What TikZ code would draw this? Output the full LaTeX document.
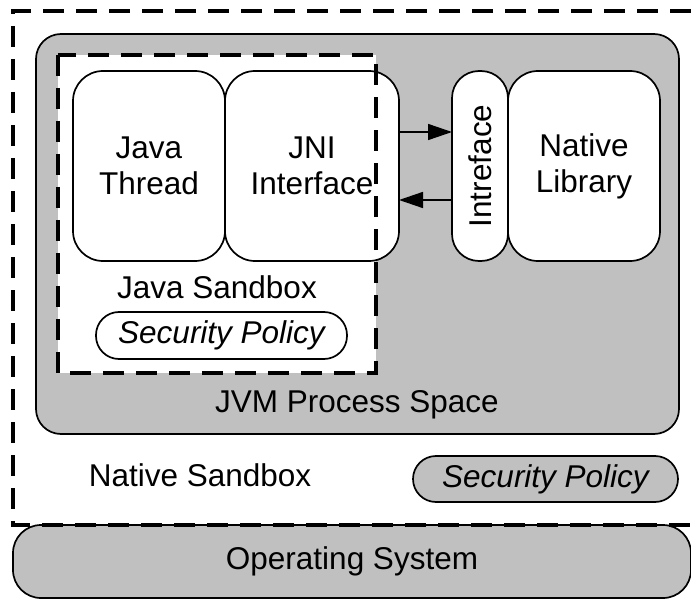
\documentclass[tikz,border=0pt]{standalone}
\usepackage{fontspec}
\setmainfont{Liberation Sans}
\usetikzlibrary{arrows.meta}
\definecolor{boxgray}{HTML}{C0C0C0}
\begin{document}
\begin{tikzpicture}[x=1pt,y=-1pt,
  every node/.style={font=\fontsize{31.5}{36}\selectfont, inner sep=0pt, outer sep=0pt},
  rbox/.style={draw, line width=1.7pt, fill=white, rounded corners=30pt, minimum height=190pt},
  pill/.style={draw, line width=1.7pt, rounded corners=23pt, font=\fontsize{31.5}{36}\selectfont\itshape},
  dashline/.style={line width=3.2pt, dash pattern=on 21pt off 12pt},
  arr/.style={line width=1.5pt, -{Triangle[length=24pt,width=16pt]}}]
\useasboundingbox (0,0) rectangle (691,599);
\fill[white] (0,0) rectangle (691,599);
% Operating system
\node[draw, line width=1.7pt, fill=boxgray, rounded corners=28pt, minimum width=678pt, minimum height=73pt] (os) at (352,561.5) {Operating System};
% Native sandbox dashed border
\coordinate (nsTR) at (691,11);
\coordinate (nsTL) at (13,11);
\coordinate (nsBL) at (13,525);
\coordinate (nsBR) at (691,525);
\draw[dashline] (nsTR) -- (nsTL) -- (nsBL) -- (nsBR);
% JVM process space
\node[draw, line width=1.7pt, fill=boxgray, rounded corners=25pt, minimum width=643pt, minimum height=400pt] (jvm) at (357.5,234) {};
% Java sandbox fill
\node[fill=white, minimum width=318pt, minimum height=318pt] (jsb) at (217,214) {};
% Inner boxes
\node[rbox, minimum width=152pt, align=center] (thread) at (149,166) {Java\\Thread};
\node[rbox, minimum width=174pt, align=center] (jni) at (312,166) {JNI\\Interface};
\node[rbox, minimum width=56pt, rounded corners=27pt] (iface) at (480,166) {};
\node[rotate=90] (ifacetext) at (iface.center) {Intreface};
\node[rbox, minimum width=152pt, align=center] (native) at (584,166) {Native\\Library};
% Java sandbox dashed border
\draw[dashline] (jsb.north west) rectangle (jsb.south east);
% arrows
\draw[arr] ([yshift=34pt]jni.east) -- ([yshift=34pt]jni.east -| iface.west);
\draw[arr] ([yshift=-34pt]jni.east -| iface.west) -- ([yshift=-34pt]jni.east);
% labels
\node (jsblabel) at (217,287) {Java Sandbox};
\node[pill, fill=white, minimum width=251pt, minimum height=47pt] (sp1) at (221.5,335.5) {Security Policy};
\node (jvmlabel) at (357,405) {JVM Process Space};
\node (nslabel) at (200,475) {Native Sandbox};
\node[pill, fill=boxgray, minimum width=265pt, minimum height=46pt] (sp2) at (545.5,479) {Security Policy};
\end{tikzpicture}
\end{document}
